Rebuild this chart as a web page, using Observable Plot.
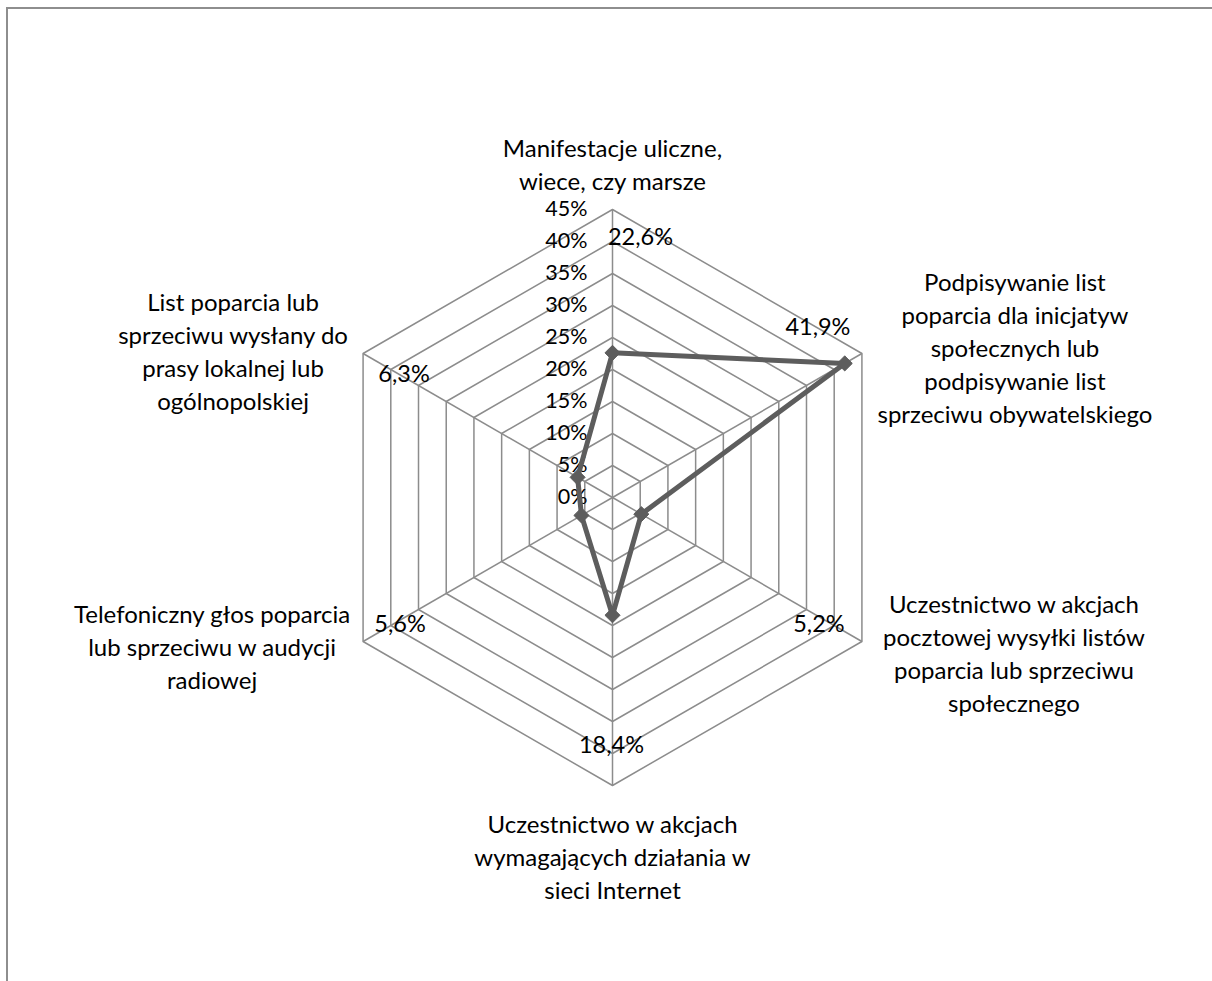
<!DOCTYPE html>
<html>
<head>
<meta charset="utf-8">
<script src="https://cdn.jsdelivr.net/npm/d3@7"></script>
<script src="https://cdn.jsdelivr.net/npm/@observablehq/plot@0.6"></script>
<style>
  html, body { margin: 0; padding: 0; background: #fff; overflow: hidden; }
  #chart { position: absolute; left: 0; top: 0; }
  #frame { position: absolute; left: 6px; top: 7px; width: 1300px; height: 1100px;
           border: 2px solid #8e8e8e; box-sizing: border-box; pointer-events: none; }
</style>
</head>
<body>
<div id="chart"></div>
<div id="frame"></div>
<script>
// ---- data ----
const categories = [
  "Manifestacje uliczne,\nwiece, czy marsze",
  "Podpisywanie list\npoparcia dla inicjatyw\nspołecznych lub\npodpisywanie list\nsprzeciwu obywatelskiego",
  "Uczestnictwo w akcjach\npocztowej wysyłki listów\npoparcia lub sprzeciwu\nspołecznego",
  "Uczestnictwo w akcjach\nwymagających działania w\nsieci Internet",
  "Telefoniczny głos poparcia\nlub sprzeciwu w audycji\nradiowej",
  "List poparcia lub\nsprzeciwu wysłany do\nprasy lokalnej lub\nogólnopolskiej"
];
const values = [22.6, 41.9, 5.2, 18.4, 5.6, 6.3];
const valueLabels = ["22,6%", "41,9%", "5,2%", "18,4%", "5,6%", "6,3%"];
const ticks = [0, 5, 10, 15, 20, 25, 30, 35, 40, 45];
const tickLabels = ["0%", "5%", "10%", "15%", "20%", "25%", "30%", "35%", "40%", "45%"];

// ---- layout ----
const W = 1212, H = 981;
const cx = 612, cy = 497;          // centre in pixels
const maxV = 45, R = 288;          // outer ring radius in pixels
const k = R / maxV;                // pixels per percent
const n = categories.length;
const ang = i => i * 2 * Math.PI / n;
const px = (v, i) => v * Math.sin(ang(i));
const py = (v, i) => v * Math.cos(ang(i));

// pixel offsets (from outer vertex) for category and value labels
const catOffsets = [[0, -47], [153, -7], [152, 10], [0, 70], [-151, 4], [-130, -4]];
const valOffsets = [[28, 28], [-44, -26], [-43, -17], [-1, -40], [37, -17], [41, 21]];

const rings = [];
ticks.filter(t => t > 0).forEach(t => {
  for (let i = 0; i <= n; i++) rings.push({ring: t, x: px(t, i % n), y: py(t, i % n)});
});
const spokes = categories.map((c, i) => ({x1: 0, y1: 0, x2: px(maxV, i), y2: py(maxV, i)}));
const series = values.map((v, i) => ({x: px(v, i), y: py(v, i)}));
const seriesClosed = [...series, series[0]];
const tickData = ticks.map((t, i) => ({x: 0, y: t, label: tickLabels[i]}));

const font = "Lato, 'Open Sans', sans-serif";
const fsTick = 21.5, fsVal = 23.5, fsCat = 24;

const marks = [
  Plot.line(rings, {x: "x", y: "y", z: "ring", stroke: "#8c8c8c", strokeWidth: 1.5}),
  Plot.link(spokes, {x1: "x1", y1: "y1", x2: "x2", y2: "y2", stroke: "#8c8c8c", strokeWidth: 1.5}),
  Plot.text(tickData, {x: "x", y: "y", text: "label", textAnchor: "end", dx: -25, fill: "#000",
    fontSize: fsTick, fontFamily: font, lineAnchor: "middle"}),
  Plot.line(seriesClosed, {x: "x", y: "y", stroke: "#5d5d5d", strokeWidth: 5, strokeLinejoin: "round", curve: "linear"}),
  Plot.dot(series, {x: "x", y: "y", symbol: "diamond2", r: 6.8, fill: "#5d5d5d", stroke: "#5d5d5d", strokeWidth: 1})
];

valueLabels.forEach((lab, i) => {
  marks.push(Plot.text([{x: px(maxV, i), y: py(maxV, i), t: lab}], {
    x: "x", y: "y", text: "t", dx: valOffsets[i][0], dy: valOffsets[i][1],
    textAnchor: "middle", lineAnchor: "middle", fill: "#000", fontSize: fsVal, fontFamily: font
  }));
});
categories.forEach((c, i) => {
  marks.push(Plot.text([{x: px(maxV, i), y: py(maxV, i), t: c}], {
    x: "x", y: "y", text: "t", dx: catOffsets[i][0], dy: catOffsets[i][1],
    textAnchor: "middle", lineAnchor: "middle", lineHeight: 33 / fsCat,
    fill: "#000", fontSize: fsCat, fontFamily: font
  }));
});

const chart = Plot.plot({
  width: W, height: H,
  margin: 0,
  x: {domain: [-cx / k, (W - cx) / k], range: [0, W], axis: null},
  y: {domain: [-(H - cy) / k, cy / k], range: [H, 0], axis: null},
  style: {background: "transparent", fontFamily: font},
  marks
});
document.getElementById("chart").appendChild(chart);
</script>
</body>
</html>
